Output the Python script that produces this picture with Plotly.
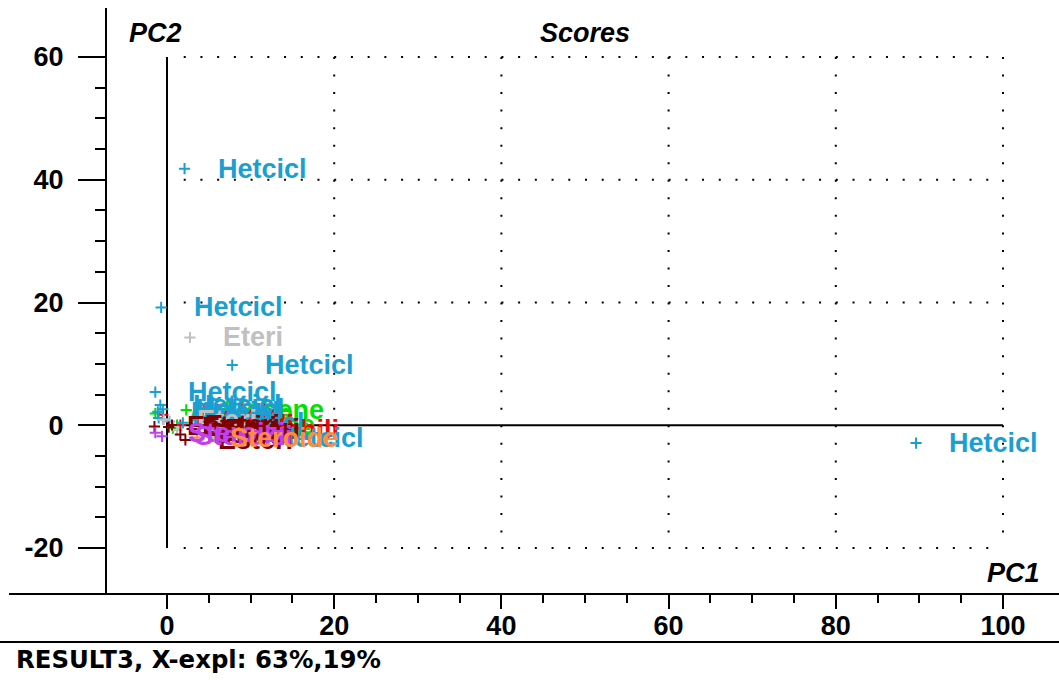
import plotly.graph_objects as go

# ---- score data (PC1, PC2) per compound class ----
hetcicl_pc1 = [2.1, -0.7, 7.8, -1.4, 89.6, -0.8, -1.1, -0.5, -1.0, 1.9, 9.0]
hetcicl_pc2 = [41.8, 19.2, 9.8, 5.4, -2.9, 3.3, 2.2, 2.6, 1.2, 0.4, -2.0]

fenoli_pc1 = [-0.5, 0.3]
fenoli_pc2 = [1.0, 0.6]

alchene_pc1 = [2.3, -1.4, 1.2, 0.7]
alchene_pc2 = [2.5, 1.9, 0.04, -0.45]

eteri_pc1 = [2.75, -0.4, 1.2]
eteri_pc2 = [14.3, 0.9, -0.8]

esteri_pc1 = [0.6, -1.5, 1.6, 3.0, 0.2, 2.2]
esteri_pc2 = [0.04, -0.2, -1.5, -0.6, -0.3, -2.4]

alchili_pc1 = [6.9, -0.5, 1.6]
alchili_pc2 = [-0.8, 1.7, 0.04]

steroizi_pc1 = [-1.4, -0.6]
steroizi_pc2 = [-1.2, -1.8]

steroide_pc1 = [3.6]
steroide_pc2 = [-2.0]

# drawing order: later classes sit on top
classes = [
    ("Alchene", "#00e000", alchene_pc1, alchene_pc2),
    ("Fenoli", "#8ab4dc", fenoli_pc1, fenoli_pc2),
    ("Alchili", "#ff0000", alchili_pc1, alchili_pc2),
    ("Hetcicl", "#1a9fd2", hetcicl_pc1, hetcicl_pc2),
    ("Eteri", "#c0c0c0", eteri_pc1, eteri_pc2),
    ("Esteri", "#800000", esteri_pc1, esteri_pc2),
    ("Steroizi", "#c040f0", steroizi_pc1, steroizi_pc2),
    ("Steroide", "#ff8c40", steroide_pc1, steroide_pc2),
]

x_major = [0, 20, 40, 60, 80, 100]
x_minor = [5, 10, 15, 25, 30, 35, 45, 50, 55, 65, 70, 75, 85, 90, 95]
y_major = [-20, 0, 20, 40, 60]
y_major_text = ["-20", "0", "20", "40", "60"]
y_minor = [-15, -10, -5, 5, 10, 15, 25, 30, 35, 45, 50, 55]

plot_title = "Scores"
x_name = "PC1"
y_name = "PC2"
footer = "RESULT3, X-expl: 63%,19%"

LABEL_FONT = dict(family="Liberation Sans, Arial, sans-serif", size=27, weight="bold")
AXIS_FONT = dict(family="Liberation Sans, Arial, sans-serif", size=27, weight="bold", color="black")

fig = go.Figure()
annotations = []

for name, color, xs, ys in classes:
    fig.add_trace(go.Scatter(
        x=xs, y=ys, mode="markers", name=name, showlegend=False,
        marker=dict(symbol="cross-thin", size=8, color=color,
                    line=dict(color=color, width=2)),
        cliponaxis=False,
    ))
    for xv, yv in zip(xs, ys):
        annotations.append(dict(
            x=xv, y=yv, xref="x", yref="y", text=name, showarrow=False,
            xanchor="left", yanchor="middle", xshift=31,
            font=dict(LABEL_FONT, color=color),
        ))

# titles inside the frame
annotations += [
    dict(x=50, y=63.9, xref="x", yref="y", text=plot_title, showarrow=False,
         xanchor="center", yanchor="middle",
         font=dict(AXIS_FONT, style="italic")),
    dict(x=-1.4, y=63.9, xref="x", yref="y", text=y_name, showarrow=False,
         xanchor="center", yanchor="middle",
         font=dict(AXIS_FONT, style="italic")),
    dict(x=101.3, y=-24.1, xref="x", yref="y", text=x_name, showarrow=False,
         xanchor="center", yanchor="middle",
         font=dict(AXIS_FONT, style="italic")),
    dict(x=-0.0977, y=-0.1126, xref="paper", yref="paper", text=footer,
         showarrow=False, xanchor="left", yanchor="middle",
         font=dict(family="DejaVu Sans, sans-serif", size=24.4, weight="bold",
                   color="black")),
]

shapes = []
# origin cross-hair
shapes.append(dict(type="line", xref="x", yref="y", x0=0, x1=0, y0=-20, y1=60,
                   line=dict(color="black", width=2), layer="below"))
shapes.append(dict(type="line", xref="x", yref="y", x0=0, x1=100, y0=0, y1=0,
                   line=dict(color="black", width=2), layer="below"))
# dotted grid
for gy in [60, 40, 20, -20]:
    shapes.append(dict(type="line", xref="x", yref="y", x0=2, x1=100, y0=gy, y1=gy,
                       line=dict(color="black", width=2, dash="2px,14.72px"),
                       layer="below"))
for gx in [20, 40, 60, 80, 100]:
    shapes.append(dict(type="line", xref="x", yref="y", x0=gx, x1=gx, y0=60, y1=-20,
                       line=dict(color="black", width=2, dash="2px,15.54px"),
                       layer="below"))
# bottom frame rules
shapes.append(dict(type="line", xref="paper", yref="paper", x0=-0.1029, x1=1,
                   y0=0, y1=0, line=dict(color="black", width=2)))
shapes.append(dict(type="line", xref="paper", yref="paper", x0=-0.1124, x1=1,
                   y0=-0.0819, y1=-0.0819, line=dict(color="black", width=2)))

fig.update_layout(
    width=1059, height=680,
    margin=dict(l=107, r=0, t=8, b=86, pad=0),
    paper_bgcolor="white", plot_bgcolor="white",
    showlegend=False,
    annotations=annotations,
    shapes=shapes,
    xaxis=dict(
        range=[-7.177, 106.70], showgrid=False, zeroline=False, showline=False,
        tickmode="array", tickvals=x_major, ticks="outside", ticklen=14,
        tickwidth=2, tickcolor="black", tickfont=AXIS_FONT,
        ticklabelstandoff=-6,
        minor=dict(tickmode="array", tickvals=x_minor, ticks="outside",
                   ticklen=8, tickwidth=2, tickcolor="black", showgrid=False),
    ),
    yaxis=dict(
        range=[-27.49, 67.98], showgrid=False, zeroline=False, showline=True,
        linecolor="black", linewidth=2,
        tickmode="array", tickvals=y_major, ticktext=y_major_text,
        ticks="outside", ticklen=27,
        tickwidth=2, tickcolor="black", tickfont=AXIS_FONT,
        ticklabelstandoff=9,
        minor=dict(tickmode="array", tickvals=y_minor, ticks="outside",
                   ticklen=10, tickwidth=2, tickcolor="black", showgrid=False),
    ),
)

fig.write_html("out.html")
